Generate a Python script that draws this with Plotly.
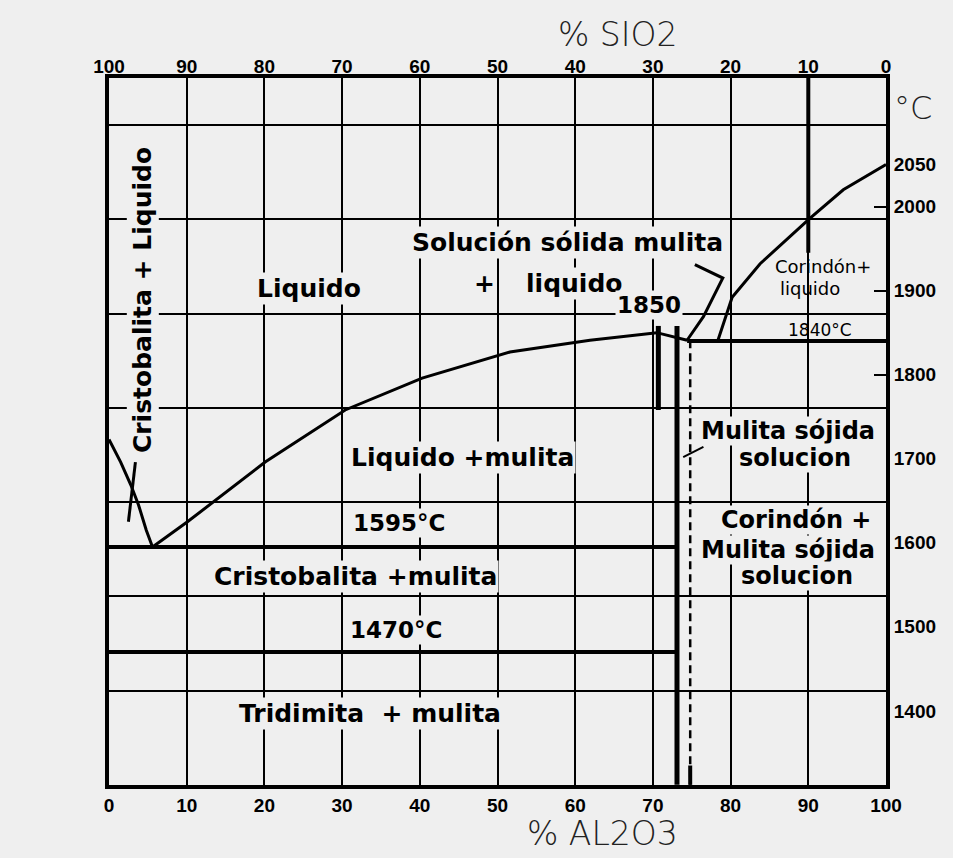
import plotly.graph_objects as go

BG = "#efefef"

# ---- data (x = % Al2O3, y = temperature °C) ----
x_ticks = list(range(0, 101, 10))
y_tickvals = [1400, 1500, 1600, 1700, 1800, 1900, 2000, 2050]
y_minor_ticks = [1800, 1900, 2000]

# liquidus of mullite (eutectic -> peritectic)
mull_liq_x = [5.6, 10.1, 20.1, 30.4, 40.3, 51.6, 61.9, 70.5, 74.4]
mull_liq_T = [1595, 1625, 1696, 1758, 1796, 1827, 1841, 1850, 1841]

# liquidus of cristobalite
crist_liq_x = [0.0, 1.5, 2.8, 3.8, 4.8, 5.6]
crist_liq_T = [1723, 1696, 1669, 1645, 1615, 1595]

# short metastable extension near cristobalite liquidus
meta_x = [3.4, 2.5]
meta_T = [1696, 1625]

# liquidus of corundum
cor_liq_x = [78.3, 80.2, 83.8, 90.2, 94.5, 100.0]
cor_liq_T = [1839, 1892, 1932, 1986, 2020, 2050]

# leader line toward "Solución sólida mulita + liquido"
leader_x = [74.4, 76.5, 79.0, 75.4]
leader_T = [1841, 1869, 1915, 1931]

# small leader for "Mulita sójida solucion"
leader2_x = [73.9, 76.5]
leader2_T = [1702, 1714]

# invariant lines
peritectic_x = [74.4, 100.0]
peritectic_T = [1840, 1840]
eutectic_x = [0.0, 73.1]
eutectic_T = [1595, 1595]
tridym_x = [0.0, 73.1]
tridym_T = [1470, 1470]

# vertical boundaries of mullite solid solution
mull_left_x = [73.1, 73.1]
mull_left_T = [1858, 1312]
mull_short_x = [70.7, 70.7]
mull_short_T = [1858, 1758]
mull_dash_x = [74.8, 74.8]
mull_dash_T = [1841, 1312]
mull_dash_end_T = [1335, 1312]
top90_x = [90.0, 90.0]
top90_T = [2153, 1945]

Y_RANGE = [1311.8, 2153.0]

fig = go.Figure()


def line(x, y, w=3, dash=None):
    fig.add_trace(go.Scatter(x=x, y=y, mode="lines",
                             line=dict(color="black", width=w, dash=dash),
                             hoverinfo="skip", showlegend=False))


line(mull_liq_x, mull_liq_T, 3)
line(crist_liq_x, crist_liq_T, 3)
line(meta_x, meta_T, 3)
line(cor_liq_x, cor_liq_T, 3)
line(leader_x, leader_T, 3)
line(leader2_x, leader2_T, 2)
line(peritectic_x, peritectic_T, 4)
line(eutectic_x, eutectic_T, 4)
line(tridym_x, tridym_T, 4)
line(mull_left_x, mull_left_T, 5)
line(mull_short_x, mull_short_T, 5)
line(mull_dash_x, mull_dash_T, 2.5, "8px,5px")
line([mull_dash_x[0], mull_dash_x[0]], mull_dash_end_T, 4)
line(top90_x, top90_T, 4)

# dummy traces to attach auxiliary axes
fig.add_trace(go.Scatter(x=[50], y=[1], xaxis="x2", yaxis="y2", mode="markers",
                         marker=dict(opacity=0), hoverinfo="skip", showlegend=False))
fig.add_trace(go.Scatter(x=[50], y=[1500], xaxis="x", yaxis="y3", mode="markers",
                         marker=dict(opacity=0), hoverinfo="skip", showlegend=False))

tickfont = dict(family="Liberation Sans, Arial, sans-serif",
                size=19, color="black", weight="bold")

fig.update_layout(
    width=953, height=858,
    margin=dict(l=108.5, r=67, t=78, b=73),
    paper_bgcolor=BG, plot_bgcolor=BG,
    showlegend=False,
    xaxis=dict(range=[0, 100], tickvals=x_ticks, showgrid=True, gridcolor="black",
               gridwidth=2, showline=True, linecolor="black", linewidth=4, mirror=True,
               zeroline=False, ticks="", tickfont=tickfont, fixedrange=True),
    xaxis2=dict(range=[100, 0], tickvals=x_ticks, overlaying="x", side="top", anchor="y",
                showgrid=False, showline=False, zeroline=False, ticks="",
                tickfont=tickfont, fixedrange=True),
    yaxis=dict(range=Y_RANGE, tickvals=y_tickvals, side="right", showgrid=False,
               showline=True, linecolor="black", linewidth=4, mirror=True,
               zeroline=False, ticks="", tickfont=tickfont, fixedrange=True),
    yaxis2=dict(range=[0, 7.5], dtick=1, overlaying="y", side="left", showgrid=True,
                gridcolor="black", gridwidth=2, showticklabels=False, zeroline=False,
                showline=False, ticks="", fixedrange=True),
    yaxis3=dict(range=Y_RANGE, tickvals=y_minor_ticks, overlaying="y", side="right",
                showgrid=False, showticklabels=False, zeroline=False, showline=False,
                ticks="inside", ticklen=12, tickwidth=2, tickcolor="black", fixedrange=True),
)

BOLD = dict(family="DejaVu Sans", size=25, color="black")
REG = dict(family="DejaVu Sans", size=18, color="black")


def label(text, x, y, font=BOLD, bg=BG, angle=0, xanchor="center", bold=True, pad=1):
    fig.add_annotation(text=("<b>%s</b>" % text) if bold else text, x=x, y=y,
                       xref="x", yref="y", showarrow=False, font=font,
                       bgcolor=bg, borderpad=pad, textangle=angle, xanchor=xanchor,
                       yanchor="middle")


RB = dict(BOLD, size=24)

label("Liquido", 25.7, 1903)
label("Solución sólida mulita", 59.0, 1957)
label("+", 48.3, 1909, bg=None)
label("liquido", 59.9, 1909)
label("1850", 69.5, 1883, font=dict(BOLD, size=23))
label("Corindón+", 85.6, 1929, font=REG, bg=None, xanchor="left", bold=False, pad=0)
label("liquido", 86.2, 1903, font=REG, bg=None, xanchor="left", bold=False, pad=0)
label("1840°C", 91.5, 1853, font=dict(REG, size=17), bg=None, bold=False)
label("Cristobalita + Liquido", 4.4, 1889, angle=-90)
label("1723°C", -0.4, 1716, font=dict(BOLD, size=23), bg=None, xanchor="right")
label("Liquido +mulita", 45.5, 1701)
label("1595°C", 37.3, 1624, font=dict(BOLD, size=23))
label("Cristobalita +mulita", 31.7, 1560)
label("1470°C", 37.0, 1496, font=dict(BOLD, size=23))
label("Tridimita  + mulita", 33.6, 1397)
label("Mulita sójida", 87.4, 1733, font=RB, pad=0)
label("solucion", 88.3, 1701, font=RB, pad=0)
label("Corindón +", 88.4, 1627, font=RB, pad=0)
label("Mulita sójida", 87.4, 1592, font=RB, pad=0)
label("solucion", 88.5, 1561, font=RB, pad=0)

TITLE = dict(family="DejaVu Sans", size=33, color="#222222", weight=200)
fig.add_annotation(text="% SIO2", x=0.735, y=1.061, xref="paper", yref="paper",
                   showarrow=False, font=TITLE, yanchor="middle")
fig.add_annotation(text="% AL2O3", x=0.735, y=-0.068, xref="paper", yref="paper",
                   showarrow=False, font=TITLE, yanchor="middle")
fig.add_annotation(text="°C", x=1.062, y=0.9576, xref="paper", yref="paper",
                   showarrow=False, font=dict(TITLE, size=32), yanchor="middle")

fig.write_html("out.html",
               config={"displayModeBar": False},
               post_script="document.body.style.margin='0';"
                           "document.body.style.background='%s';" % BG)
